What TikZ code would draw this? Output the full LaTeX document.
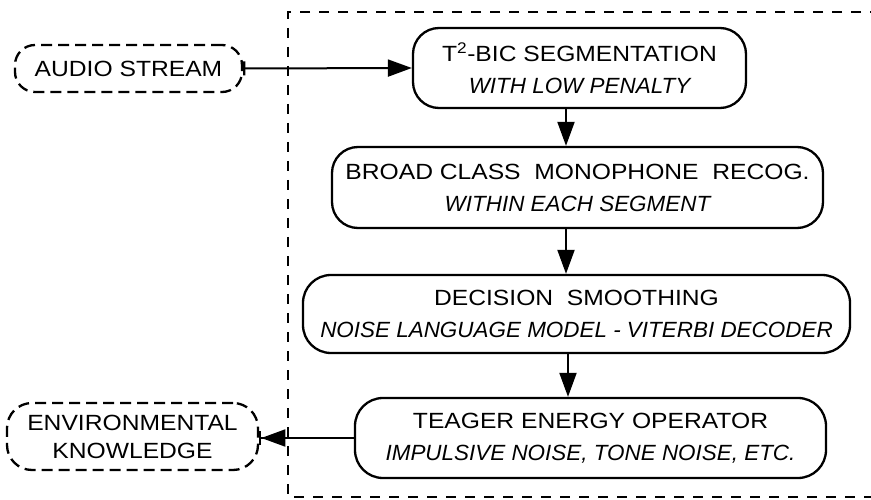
\documentclass[tikz,border=0pt]{standalone}
\usepackage{fontspec}
\setmainfont{Liberation Sans}[FakeStretch=1.12]
\newfontfamily\itf{Liberation Sans}[FakeStretch=1.02]
\usetikzlibrary{arrows.meta}
\begin{document}
\begin{tikzpicture}[x=1pt,y=-1pt,
  proc/.style={draw, line width=2.3pt, rounded corners=26pt, inner sep=0pt, align=center,
    font=\fontsize{22}{32}\selectfont},
  term/.style={draw, dash pattern=on 11pt off 6pt, line width=2.3pt, rounded corners=22pt,
    inner sep=0pt, align=center, font=\fontsize{22}{28}\selectfont},
  flow/.style={line width=2pt, -{Triangle[length=24pt,width=17pt]}},
  frame/.style={line width=2.2pt, dash pattern=on 10pt off 9pt},
]
\useasboundingbox (0,0) rectangle (871,500);
\draw[frame] (880,12) -- (288,12) -- (288,497) -- (880,497);

\node[proc, minimum width=333pt, minimum height=80pt] (b1) at (579.5,68)
  {T\textsuperscript{2}-BIC SEGMENTATION\\{\itf\itshape WITH LOW PENALTY}};
\node[proc, minimum width=491pt, minimum height=81pt] (b2) at (577.5,187.5)
  {BROAD CLASS\ \ MONOPHONE\ \ RECOG.\\{\itf\itshape WITHIN EACH SEGMENT}};
\node[proc, minimum width=547pt, minimum height=78pt, rounded corners=28pt] (b3) at (576.5,314)
  {DECISION\ \ SMOOTHING\\{\itf\itshape NOISE LANGUAGE MODEL - VITERBI DECODER}};
\node[proc, minimum width=471pt, minimum height=80pt, rounded corners=28pt] (b4) at (590.5,438)
  {TEAGER ENERGY OPERATOR\\{\itf\itshape IMPULSIVE NOISE, TONE NOISE, ETC.}};

\node[term, minimum width=227pt, minimum height=47pt, rounded corners=20pt] (audio) at (128.5,68.5)
  {AUDIO STREAM};
\node[term, minimum width=251pt, minimum height=67pt, rounded corners=25pt] (env) at (132.5,436.5)
  {ENVIRONMENTAL\\KNOWLEDGE};

\coordinate (ax1) at (566,0);
\coordinate (ax3) at (568,0);
\draw[flow] (b1.south -| ax1) -- (b2.north -| ax1);
\draw[flow] (b2.south -| ax1) -- (b3.north -| ax1);
\draw[flow] (b3.south -| ax3) -- (b4.north -| ax3);

\draw[line width=2pt, {Bar[width=14pt,line width=2.2pt]}-{Triangle[length=24pt,width=17pt]}]
  (audio.east) -- (b1.west);
\draw[line width=2pt, -{Triangle[length=24pt,width=17pt]Bar[width=14pt,line width=2.2pt]}]
  (b4.west) -- (b4.west -| env.east);
\end{tikzpicture}
\end{document}
